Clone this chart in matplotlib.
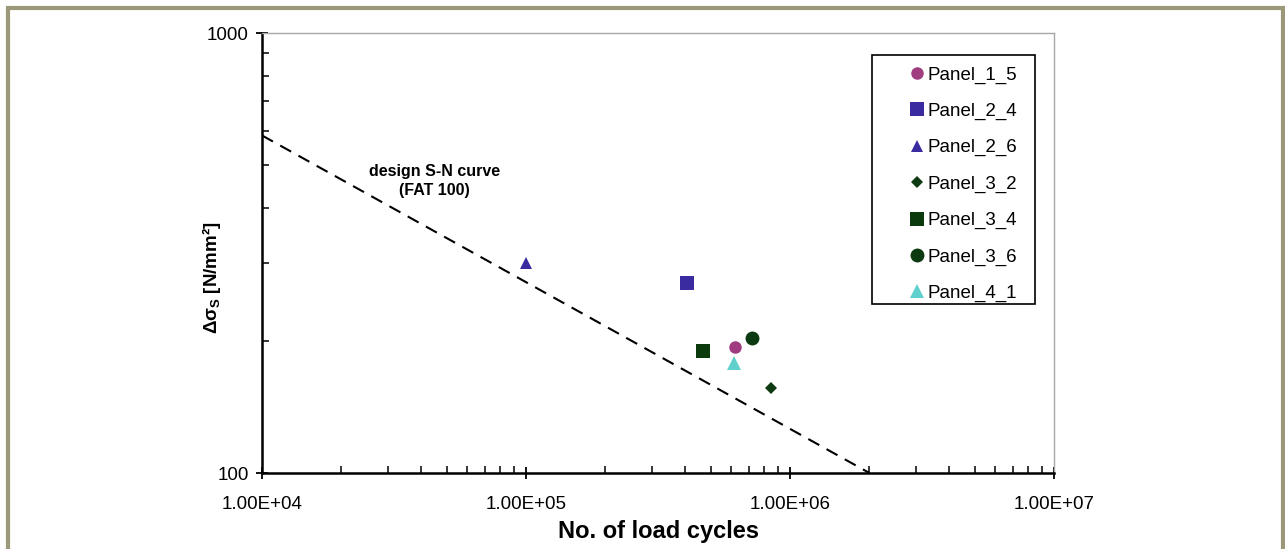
import matplotlib
matplotlib.use("Agg")
import matplotlib.pyplot as plt
from matplotlib.patches import Rectangle
from matplotlib.ticker import FixedLocator, LogLocator, NullFormatter

plt.rcParams["font.family"] = ["Liberation Sans", "DejaVu Sans"]
plt.rcParams["mathtext.fontset"] = "custom"
plt.rcParams["mathtext.rm"] = "Liberation Sans"
plt.rcParams["mathtext.bf"] = "Liberation Sans:bold"
plt.rcParams["mathtext.it"] = "Liberation Sans:italic"

# test results: (label, cycles, stress range)
labels = ["Panel_1_5", "Panel_2_4", "Panel_2_6", "Panel_3_2",
          "Panel_3_4", "Panel_3_6", "Panel_4_1"]
cycles = [6.2e5, 4.07e5, 1.0e5, 8.45e5, 4.7e5, 7.2e5, 6.15e5]
stress = [193, 270, 300, 156, 189, 203, 178]
markers = ["o", "s", "^", "D", "s", "o", "^"]
colors = ["#a03c80", "#3a2ca0", "#3a2ca0", "#0e3a12",
          "#0b3a0d", "#0b3a10", "#5fd0cc"]
sizes = [9, 10, 8, 6, 10, 10, 10]

# design S-N curve FAT 100 (m = 3)
sn_cycles = [1.0e4, 2.0e6]
sn_stress = [585, 100]

x_ticks = [1e4, 1e5, 1e6, 1e7]
x_ticklabels = ["1.00E+04", "1.00E+05", "1.00E+06", "1.00E+07"]
y_ticks = [100, 1000]

fig = plt.figure(figsize=(12.85, 5.49), dpi=100)
ax = fig.add_axes([262 / 1285, 1 - 473 / 549, 792 / 1285, 440 / 549])

ax.plot(sn_cycles, sn_stress, color="black", lw=1.5, ls=(0, (6, 4)))
for lab, n, s, m, c, sz in zip(labels, cycles, stress, markers, colors, sizes):
    ax.plot(n, s, ls="none", marker=m, color=c, markersize=sz,
            markeredgewidth=0, label=lab)

ax.set_xscale("log")
ax.set_yscale("log")
ax.set_xlim(1e4, 1e7)
ax.set_ylim(100, 1000)

ax.xaxis.set_major_locator(FixedLocator(x_ticks))
ax.set_xticklabels(x_ticklabels)
ax.yaxis.set_major_locator(FixedLocator(y_ticks))
ax.set_yticklabels([str(v) for v in y_ticks])
ax.xaxis.set_minor_locator(LogLocator(base=10, subs=range(2, 10)))
ax.yaxis.set_minor_locator(LogLocator(base=10, subs=range(2, 10)))
ax.xaxis.set_minor_formatter(NullFormatter())
ax.yaxis.set_minor_formatter(NullFormatter())

ax.tick_params(which="major", direction="inout", length=9, width=1.3,
               labelsize=13.5, color="black")
ax.tick_params(which="minor", direction="in", length=5, width=1.1,
               color="black")
ax.tick_params(axis="x", which="major", pad=12)
ax.tick_params(axis="y", which="major", pad=5)

for side in ["left", "bottom"]:
    ax.spines[side].set_linewidth(1.8)
    ax.spines[side].set_color("black")
for side in ["top", "right"]:
    ax.spines[side].set_linewidth(1.0)
    ax.spines[side].set_color("#a8a8a8")

ax.set_xlabel("No. of load cycles", fontsize=17, fontweight="bold")
ax.xaxis.set_label_coords(0.5, -0.107)
ax.set_ylabel(r"$\mathbf{\Delta\sigma}_{\mathbf{S}}$ [N/mm²]", fontsize=13.5,
              fontweight="bold")
ax.yaxis.set_label_coords(-0.049, 0.443)

ax.text(4.5e4, 460, "design S-N curve\n(FAT 100)", ha="center", va="center",
        fontsize=11.5, fontweight="bold", linespacing=1.35)

# legend box drawn by hand, entries placed inside it
ax.add_patch(Rectangle((0.770, 0.384), 0.206, 0.566, transform=ax.transAxes,
                       fill=False, edgecolor="black", linewidth=1.2,
                       zorder=5))
leg = ax.legend(loc="upper right", bbox_to_anchor=(0.969, 0.952),
                fontsize=13.5, frameon=False, handlelength=0.5,
                handletextpad=0.3, labelspacing=1.02, borderpad=0.65,
                borderaxespad=0)

# outer frame of the figure
fig.patches.append(Rectangle((8 / 1285, -0.01), 1 - 10 / 1285, 1 - 8 / 549 + 0.01,
                             transform=fig.transFigure, fill=False,
                             edgecolor="#9a9878", linewidth=3))

fig.savefig("out.png", dpi=100)
